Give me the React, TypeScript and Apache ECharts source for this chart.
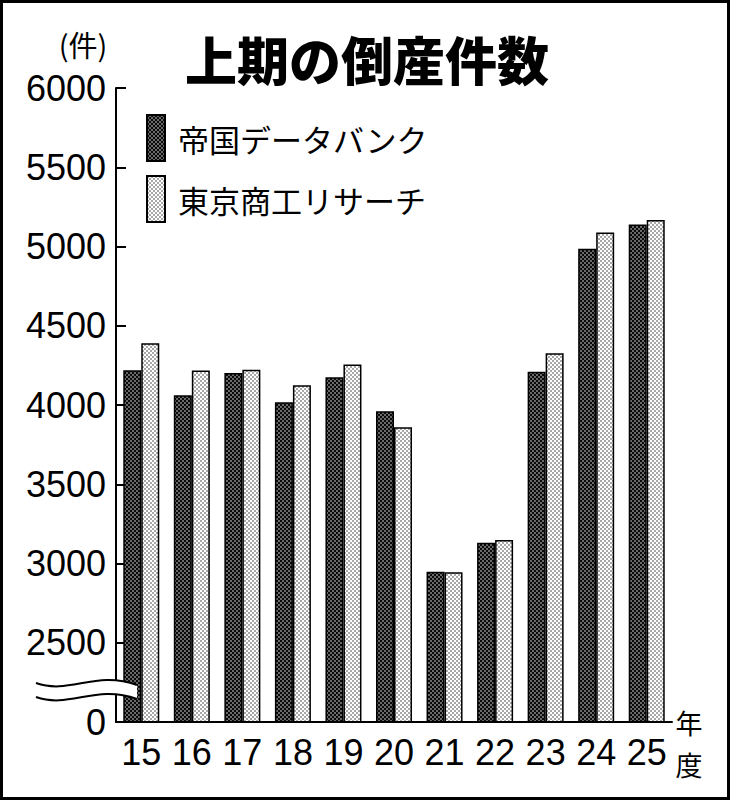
import React, { useEffect, useRef } from "react";
import * as echarts from "echarts";

const years = ["15", "16", "17", "18", "19", "20", "21", "22", "23", "24", "25"];
const teikokuData = [4219, 4062, 4202, 4017, 4175, 3960, 2948, 3131, 4210, 4986, 5139];
const tsrData = [4389, 4217, 4223, 4125, 4256, 3860, 2945, 3148, 4327, 5089, 5167];
const seriesNames = ["帝国データバンク", "東京商工リサーチ"];
const axisMin = 2000; // drawn as "0" (broken axis)
const axisMax = 6000;
const axisStep = 500;

function makePattern(fg: string, bg: string) {
  const c = document.createElement("canvas");
  c.width = 4;
  c.height = 4;
  const ctx = c.getContext("2d")!;
  ctx.fillStyle = bg;
  ctx.fillRect(0, 0, 4, 4);
  ctx.fillStyle = fg;
  ctx.fillRect(0, 0, 2, 2);
  ctx.fillRect(2, 2, 2, 2);
  return c;
}

const WAVE_D = "M36 683 C70 695 95 670 137 685 L137 699 C95 684 70 709 36 697 Z";
let registered = false;

export default function App() {
  const ref = useRef<HTMLDivElement>(null);
  useEffect(() => {
    if (!ref.current) return;
    if (!registered) {
      echarts.graphic.registerShape("wave", echarts.graphic.extendPath(WAVE_D, {}) as any);
      registered = true;
    }
    const chart = echarts.init(ref.current, null, { renderer: "svg" });
    const darkPat = makePattern("#0a0a0a", "#6a6a6a");
    const lightPat = makePattern("#a8a8a8", "#ffffff");
    const jp = "'Noto Sans CJK JP', sans-serif";
    const num = "'Liberation Sans', Arial, sans-serif";
    chart.setOption({
      animation: false,
      backgroundColor: "#ffffff",
      grid: { left: 116, right: 58, top: 88, bottom: 78, containLabel: false },
      legend: {
        orient: "vertical",
        left: 141,
        top: 109,
        itemWidth: 18,
        itemHeight: 46,
        itemGap: 13,
        icon: "rect",
        textStyle: { fontSize: 31, fontFamily: jp, color: "#000", padding: [0, 0, 0, 8] },
        data: seriesNames,
      },
      xAxis: {
        type: "category",
        data: years,
        z: 5,
        axisLine: { lineStyle: { color: "#000", width: 2 } },
        axisTick: { show: false },
        axisLabel: {
          interval: 0,
          hideOverlap: false,
          fontSize: 36,
          fontFamily: num,
          color: "#000",
          margin: 12,
        },
      },
      yAxis: {
        type: "value",
        min: axisMin,
        max: axisMax,
        interval: axisStep,
        axisLine: { show: true, lineStyle: { color: "#000", width: 2 } },
        axisTick: { show: true, inside: true, length: 10, lineStyle: { color: "#000", width: 2 } },
        splitLine: { show: false },
        axisLabel: {
          fontSize: 36,
          fontFamily: num,
          color: "#000",
          margin: 10,
          formatter: (v: number) => (v === axisMin ? "0" : String(v)),
        },
      },
      series: [
        {
          name: seriesNames[0],
          type: "bar",
          data: teikokuData,
          barWidth: 18,
          barGap: "0%",
          clip: true,
          itemStyle: {
            color: { image: darkPat, repeat: "repeat", imageWidth: 4, imageHeight: 4 },
            borderColor: "#000",
            borderWidth: 1.5,
          },
        },
        {
          name: seriesNames[1],
          type: "bar",
          data: tsrData,
          barWidth: 18,
          barGap: "0%",
          clip: true,
          itemStyle: {
            color: { image: lightPat, repeat: "repeat", imageWidth: 4, imageHeight: 4 },
            borderColor: "#000",
            borderWidth: 1.5,
          },
        },
      ],
      graphic: [
        {
          type: "text",
          left: 185,
          top: 32,
          z: 10,
          style: { text: "上期の倒産件数", fontSize: 52, fontWeight: 900, fontFamily: jp, fill: "#000" },
        },
        {
          type: "text",
          x: 83,
          y: 44,
          z: 10,
          style: {
            text: "(件)",
            fontSize: 29,
            fontFamily: jp,
            fill: "#000",
            align: "center",
            verticalAlign: "middle",
          },
        },
        {
          type: "text",
          x: 689,
          y: 722,
          z: 10,
          style: { text: "年", fontSize: 27, fontFamily: jp, fill: "#000", align: "center", verticalAlign: "middle" },
        },
        {
          type: "text",
          x: 689,
          y: 764,
          z: 10,
          style: { text: "度", fontSize: 27, fontFamily: jp, fill: "#000", align: "center", verticalAlign: "middle" },
        },
        { type: "wave", x: 0, y: 0, z: 20, style: { fill: "#ffffff", stroke: null } },
        {
          type: "bezierCurve",
          z: 21,
          shape: { x1: 36, y1: 683, cpx1: 70, cpy1: 695, cpx2: 95, cpy2: 670, x2: 137, y2: 685 },
          style: { stroke: "#000", lineWidth: 2, fill: null },
        },
        {
          type: "bezierCurve",
          z: 21,
          shape: { x1: 36, y1: 697, cpx1: 70, cpy1: 709, cpx2: 95, cpy2: 684, x2: 137, y2: 699 },
          style: { stroke: "#000", lineWidth: 2, fill: null },
        },
        {
          type: "rect",
          z: 30,
          shape: { x: 1.5, y: 1.5, width: 727, height: 797 },
          style: { fill: null, stroke: "#000", lineWidth: 3 },
        },
      ],
    });
    return () => chart.dispose();
  }, []);
  return (
    <div
      ref={ref}
      style={{ position: "fixed", left: 0, top: 0, width: 730, height: 800, background: "#fff" }}
    />
  );
}
